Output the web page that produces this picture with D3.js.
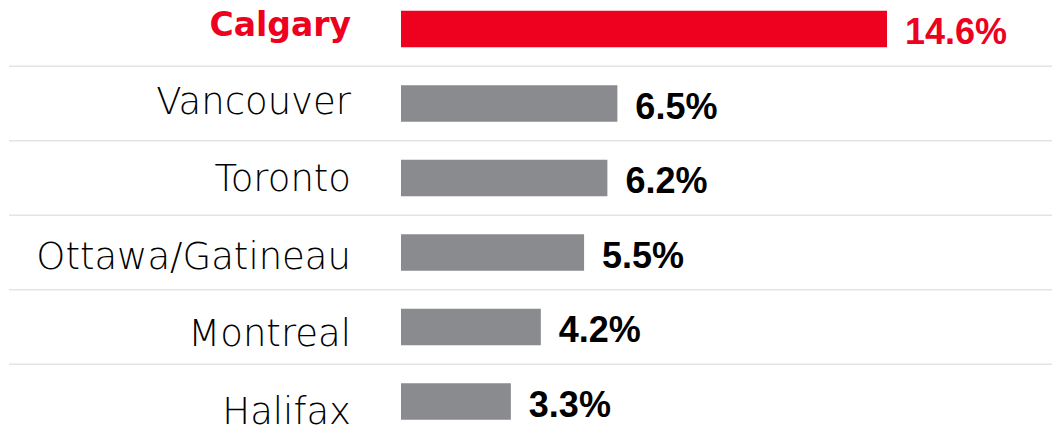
<!DOCTYPE html>
<html>
<head>
<meta charset="utf-8">
<script src="https://cdn.jsdelivr.net/npm/d3@7"></script>
<style>
  html, body { margin: 0; padding: 0; background: #fff; }
  svg { display: block; }
</style>
</head>
<body>
<svg id="chart"></svg>
<script>
// city growth chart, highlighted first row

var cities = ["Calgary", "Vancouver", "Toronto", "Ottawa/Gatineau", "Montreal", "Halifax"];
var values = [14.6, 6.5, 6.2, 5.5, 4.2, 3.3];
var highlight = ["Calgary"];

var width = 1052, height = 428;
var red = "#ee001f", grey = "#898b8e", grid = "#e4e4e4";

var svg = d3.select("#chart").attr("width", width).attr("height", height);

var data = cities.map(function(c, i) { return { city: c, value: values[i] }; });

var x = d3.scaleLinear()
  .domain([0, d3.max(values)])
  .range([401, 887]);

var y = d3.scaleBand()
  .domain(cities)
  .range([-8.25, 438.75])
  .paddingInner(0.51)
  .paddingOuter(0.255);

// category labels sit on their own, slightly wider spacing
var ly = d3.scalePoint()
  .domain(cities)
  .range([23.5, 411]);

var step = y.step();

// gridlines between rows
svg.append("g")
  .selectAll("line")
  .data(cities.slice(0, -1))
  .enter().append("line")
  .attr("x1", 9).attr("x2", width)
  .attr("y1", function(d) { return y(d) + y.bandwidth() / 2 + step / 2; })
  .attr("y2", function(d) { return y(d) + y.bandwidth() / 2 + step / 2; })
  .attr("stroke", grid)
  .attr("stroke-width", 1.5);

function isHi(d) { return highlight.indexOf(d.city) >= 0; }

svg.append("g")
  .selectAll("rect")
  .data(data)
  .enter().append("rect")
  .attr("x", x(0))
  .attr("y", function(d) { return y(d.city); })
  .attr("width", function(d) { return x(d.value) - x(0); })
  .attr("height", y.bandwidth())
  .attr("fill", function(d) { return isHi(d) ? red : grey; });

svg.append("g")
  .selectAll("text")
  .data(data)
  .enter().append("text")
  .attr("x", 351)
  .attr("y", function(d) { return ly(d.city) + (isHi(d) ? 12 : 12.5); })
  .attr("text-anchor", "end")
  .style("font-family", "'DejaVu Sans', sans-serif")
  .each(function(d) {
    d3.select(this)
      .style("font-size", isHi(d) ? "33px" : "37px")
      .style("font-weight", isHi(d) ? "bold" : "300")
      .attr("fill", isHi(d) ? red : "#000");
  })
  .text(function(d) { return d.city; });

svg.append("g")
  .selectAll("text")
  .data(data)
  .enter().append("text")
  .attr("x", function(d) { return x(d.value) + 18; })
  .attr("y", function(d) { return y(d.city) + y.bandwidth() / 2 + 15; })
  .style("font-family", "'Liberation Sans', Arial, sans-serif")
  .style("font-size", "36px")
  .style("font-weight", "bold")
  .attr("fill", function(d) { return isHi(d) ? red : "#000"; })
  .text(function(d) { return d.value.toFixed(1) + "%"; });
</script>
</body>
</html>
